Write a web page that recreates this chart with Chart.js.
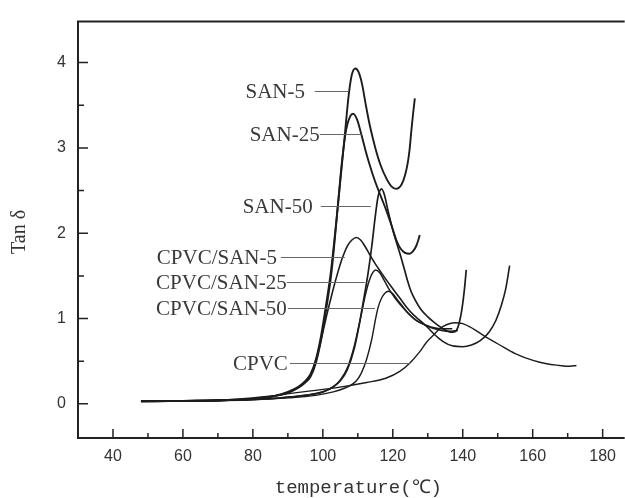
<!DOCTYPE html>
<html><head><meta charset="utf-8">
<script src="https://cdn.jsdelivr.net/npm/chart.js@4.4.1/dist/chart.umd.min.js"></script>
<style>html,body{margin:0;padding:0;background:#fff;}#wrap{width:625px;height:498px;}</style>
</head><body><div id="wrap"><canvas id="c" width="625" height="498"></canvas></div>
<script>
// ---- tick labels ----
const xTicks = [40, 60, 80, 100, 120, 140, 160, 180];
const xMinorTicks = [50, 70, 90, 110, 130, 150, 170];
const yTicks = [0, 1, 2, 3, 4];
const yMinorTicks = [0.5, 1.5, 2.5, 3.5];

// ---- series (temperature °C, tan δ) ----
const seriesNames = ["SAN-5", "SAN-25", "SAN-50", "CPVC/SAN-5", "CPVC/SAN-25", "CPVC/SAN-50", "CPVC"];

const san5X = [48,60,70,80,86,90,93,95,96.5,98,99.5,101,102.5,104.3,106.3,107.4,108.3,109.3,110.2,111.2,112.3,113.5,115,116.5,118.2,119.6,121,122.5,123.5,124.3,124.8,125.3,125.8,126.3];
const san5Y = [0.03,0.035,0.04,0.06,0.09,0.13,0.19,0.25,0.32,0.48,0.75,1.12,1.55,2.32,3.16,3.62,3.86,3.93,3.89,3.75,3.5,3.25,3.0,2.8,2.64,2.55,2.52,2.57,2.68,2.83,2.98,3.2,3.4,3.58];

const san25X = [48,60,70,80,86,90,93,95,96.5,98,99.5,101,102.3,104,105.5,106.7,107.8,108.7,109.8,111,112.2,113.4,115,116.7,118.3,119.8,121,122.2,123.5,124.8,125.8,126.7,127.3,127.7];
const san25Y = [0.03,0.035,0.04,0.06,0.09,0.14,0.2,0.27,0.35,0.52,0.8,1.18,1.55,2.2,2.85,3.22,3.37,3.4,3.33,3.16,2.97,2.8,2.6,2.42,2.25,2.07,1.92,1.82,1.77,1.76,1.79,1.85,1.92,1.98];

const san50X = [48,60,70,80,88,95,100,103,105,107,109,110.5,112,113,114,115,115.8,116.8,117.6,118.6,119.8,121,122.2,123.3,124.3,125.2,126.5,128,130,132,134,135.8,137.2,138.2,139,139.8,140.5,141];
const san50Y = [0.03,0.035,0.04,0.05,0.07,0.1,0.14,0.2,0.27,0.4,0.65,0.95,1.3,1.55,1.85,2.2,2.43,2.52,2.45,2.27,2.07,1.9,1.74,1.58,1.43,1.32,1.21,1.11,1.02,0.95,0.89,0.85,0.84,0.86,0.95,1.12,1.35,1.57];

const blend5X = [48,60,70,80,86,90,93,95,96.5,98,99.5,101,102.5,104,105.5,107,108.3,109.6,110.8,112,113.4,115,116.5,118.2,120,122,124,126,128,129.6,132,134.4,137,140,142.5,145,147.5,149.5,151,152.3,153.4];
const blend5Y = [0.03,0.035,0.04,0.06,0.09,0.13,0.19,0.26,0.34,0.5,0.75,1.02,1.27,1.5,1.7,1.85,1.92,1.95,1.92,1.85,1.75,1.64,1.55,1.45,1.35,1.24,1.13,1.04,0.97,0.91,0.81,0.73,0.68,0.67,0.69,0.74,0.84,0.98,1.15,1.35,1.62];

const blend25X = [48,60,70,80,88,95,100,103,105,107,109,110.5,112,113.3,114.3,115.1,116.2,117.5,119,120.5,122,124,126,128,130,132,134,136,138.6];
const blend25Y = [0.03,0.035,0.04,0.05,0.07,0.1,0.14,0.2,0.28,0.42,0.68,0.95,1.25,1.45,1.54,1.57,1.54,1.45,1.34,1.25,1.17,1.08,1.0,0.95,0.91,0.88,0.86,0.85,0.86];

const blend50X = [48,60,70,80,90,98,103,106,108,109.6,111,112.5,114,115,115.8,116.8,117.8,118.7,119.8,121,122.5,124,125.5,127,129,131,133.5,135.5,137];
const blend50Y = [0.03,0.035,0.04,0.05,0.07,0.1,0.14,0.18,0.22,0.27,0.36,0.52,0.76,0.98,1.13,1.24,1.3,1.32,1.3,1.24,1.16,1.08,1.02,0.97,0.93,0.9,0.88,0.88,0.88];

const cpvcX = [48,60,70,80,86.6,96,104,112.5,118,122,124.9,127.5,129.6,131.5,133.4,135.5,137.7,140,143,146,150.6,155,160.1,164,167.7,170,172.5];
const cpvcY = [0.03,0.035,0.045,0.07,0.1,0.15,0.19,0.25,0.3,0.38,0.48,0.6,0.72,0.8,0.88,0.93,0.95,0.94,0.88,0.8,0.69,0.59,0.51,0.47,0.45,0.44,0.45];

// ---- curve labels: tan δ level, text right end, leader line start/end (temperature) ----
const labelY      = [3.665, 3.16, 2.315, 1.724, 1.425, 1.12, 0.483];
const labelTextX  = [94.9, 99.1, 97.1, 86.9, 89.7, 89.7, 90.0];
const labelLineX0 = [97.7, 99.1, 99.4, 88.0, 89.7, 90.0, 90.6];
const labelLineX1 = [107.4, 111.1, 113.7, 106.3, 112.0, 114.9, 124.9];

const seriesX = [san5X, san25X, san50X, blend5X, blend25X, blend50X, cpvcX];
const seriesY = [san5Y, san25Y, san50Y, blend5Y, blend25Y, blend50Y, cpvcY];
const widths = [1.9, 1.9, 1.7, 1.6, 1.5, 1.4, 1.4];

const datasets = seriesNames.map((n, i) => ({
  label: n,
  data: seriesX[i].map((x, j) => ({x: x, y: seriesY[i][j]})),
  showLine: true,
  pointRadius: 0,
  borderColor: '#1c1c1c',
  borderWidth: widths[i],
  fill: false,
  cubicInterpolationMode: 'monotone'
}));

const decor = {
  id: 'decor',
  afterDatasetsDraw(chart) {
    const ctx = chart.ctx, a = chart.chartArea;
    const xs = chart.scales.x, ys = chart.scales.y;
    ctx.save();
    // leader lines + labels
    ctx.strokeStyle = '#666';
    ctx.lineWidth = 1;
    ctx.font = '21px "Liberation Serif"';
    ctx.fillStyle = '#3a3a3a';
    ctx.textAlign = 'right';
    ctx.textBaseline = 'middle';
    for (let i = 0; i < seriesNames.length; i++) {
      const py = Math.round(ys.getPixelForValue(labelY[i])) + 0.5;
      ctx.beginPath();
      ctx.moveTo(xs.getPixelForValue(labelLineX0[i]), py);
      ctx.lineTo(xs.getPixelForValue(labelLineX1[i]), py);
      ctx.stroke();
      ctx.fillText(seriesNames[i], xs.getPixelForValue(labelTextX[i]), py + 1);
    }
    // frame: left, bottom, top
    ctx.strokeStyle = '#222';
    ctx.lineWidth = 2;
    ctx.beginPath();
    ctx.moveTo(a.right, a.top); ctx.lineTo(a.left, a.top);
    ctx.lineTo(a.left, a.bottom); ctx.lineTo(a.right, a.bottom);
    ctx.stroke();
    // inward ticks
    ctx.lineWidth = 1.5;
    ctx.beginPath();
    xTicks.forEach(v => { const p = xs.getPixelForValue(v); ctx.moveTo(p, a.bottom); ctx.lineTo(p, a.bottom - 9); });
    xMinorTicks.forEach(v => { const p = xs.getPixelForValue(v); ctx.moveTo(p, a.bottom); ctx.lineTo(p, a.bottom - 5); });
    yTicks.forEach(v => { const p = ys.getPixelForValue(v); ctx.moveTo(a.left, p); ctx.lineTo(a.left + 10, p); });
    yMinorTicks.forEach(v => { const p = ys.getPixelForValue(v); ctx.moveTo(a.left, p); ctx.lineTo(a.left + 6, p); });
    ctx.stroke();
    // axis titles
    ctx.fillStyle = '#333';
    ctx.textAlign = 'center';
    ctx.textBaseline = 'middle';
    ctx.font = '19px "Liberation Mono"';
    ctx.fillText('temperature(\u2103)', (a.left + a.right) / 2 + 7, 488);
    ctx.save();
    ctx.translate(20, 232);
    ctx.rotate(-Math.PI / 2);
    ctx.font = '20px "Liberation Serif"';
    ctx.fillText('Tan \u03b4', 0, 0);
    ctx.restore();
    ctx.restore();
  }
};

new Chart(document.getElementById('c'), {
  type: 'scatter',
  data: { datasets: datasets },
  options: {
    responsive: false,
    animation: false,
    devicePixelRatio: 1,
    layout: { padding: { top: 13, right: 0, left: 0, bottom: 0 } },
    plugins: { legend: { display: false }, tooltip: { enabled: false } },
    scales: {
      x: {
        type: 'linear', min: 30, max: 186.3,
        afterBuildTicks: s => { s.ticks = xTicks.map(v => ({value: v})); },
        afterFit: s => { s.height = 60; },
        grid: { display: false, drawTicks: false },
        border: { display: false },
        ticks: { color: '#333', font: { family: 'Liberation Sans', size: 16 }, padding: 9, maxRotation: 0 }
      },
      y: {
        type: 'linear', min: -0.4, max: 4.48,
        afterBuildTicks: s => { s.ticks = yTicks.map(v => ({value: v})); },
        afterFit: s => { s.width = 78; },
        grid: { display: false, drawTicks: false },
        border: { display: false },
        ticks: { color: '#333', font: { family: 'Liberation Sans', size: 16 }, padding: 12 }
      }
    }
  },
  plugins: [decor]
});
</script></body></html>
